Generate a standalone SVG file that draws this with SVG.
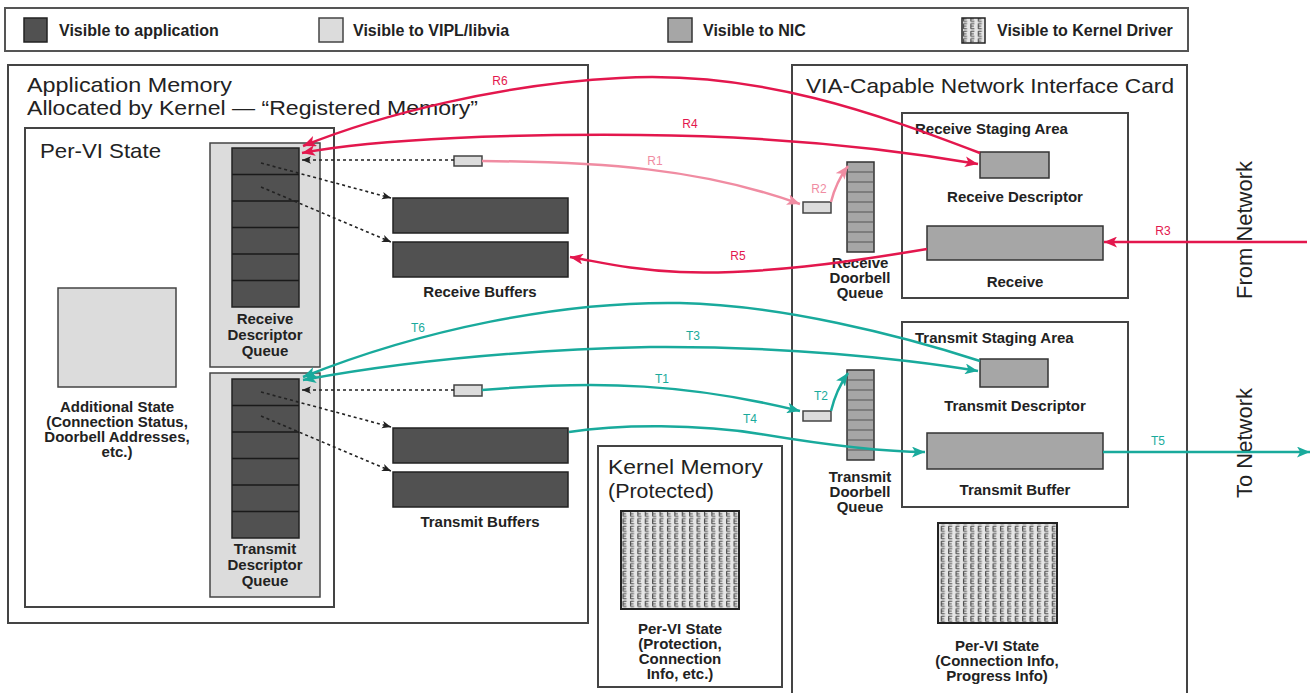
<svg xmlns="http://www.w3.org/2000/svg" width="1314" height="693" viewBox="0 0 1314 693">
<style>
.box{fill:#fff;stroke:#444;stroke-width:2}
.dark{fill:#515151;stroke:#222;stroke-width:1.5}
.light{fill:#dcdcdc;stroke:#444;stroke-width:1.5}
.nic{fill:#a6a6a6;stroke:#333;stroke-width:1.5}
.kern{fill:url(#kp);stroke:#222;stroke-width:2}
.sep{stroke:#1a1a1a;stroke-width:1.5}
.sepn{stroke:#555;stroke-width:1}
.title{font-family:"Liberation Sans",Arial,sans-serif;font-size:21px;fill:#222}
.lbl{font-family:"Liberation Sans",Arial,sans-serif;font-size:15px;font-weight:bold;fill:#222}
.leg{font-family:"Liberation Sans",Arial,sans-serif;font-size:16px;font-weight:bold;fill:#222}
.ctr{text-anchor:middle}
.cl{font-family:"Liberation Sans",Arial,sans-serif;font-size:12px;text-anchor:middle}
.red{stroke:#e3174d;stroke-width:2.5;fill:none}
.pink{stroke:#f08ca2;stroke-width:2.5;fill:none}
.teal{stroke:#19aa9c;stroke-width:2.5;fill:none}
.dot{stroke:#222;stroke-width:1.6;fill:none;stroke-dasharray:3 3}
</style>
<defs>
<pattern id="kp" width="7.4" height="7.5" patternUnits="userSpaceOnUse">
<rect width="7.4" height="7.5" fill="#e6e6e6"/>
<path d="M1.5,1.2 V6.3 M1.5,1.2 H5 M1.5,3.75 H4.5 M1.5,6.3 H5" stroke="#444" stroke-width="1.1" fill="none"/>
</pattern>
<marker id="mr" viewBox="0 0 12 10" refX="12" refY="5" markerWidth="13" markerHeight="11" markerUnits="userSpaceOnUse" orient="auto-start-reverse"><path d="M0,0 L12,5 L0,10 L3,5 z" fill="#e3174d"/></marker>
<marker id="mp" viewBox="0 0 12 10" refX="12" refY="5" markerWidth="13" markerHeight="11" markerUnits="userSpaceOnUse" orient="auto-start-reverse"><path d="M0,0 L12,5 L0,10 L3,5 z" fill="#f08ca2"/></marker>
<marker id="mt" viewBox="0 0 12 10" refX="12" refY="5" markerWidth="13" markerHeight="11" markerUnits="userSpaceOnUse" orient="auto-start-reverse"><path d="M0,0 L12,5 L0,10 L3,5 z" fill="#19aa9c"/></marker>
<marker id="mk" viewBox="0 0 12 10" refX="12" refY="5" markerWidth="9" markerHeight="8" markerUnits="userSpaceOnUse" orient="auto-start-reverse"><path d="M0,0 L12,5 L0,10 L3,5 z" fill="#222"/></marker>
</defs>
<rect width="1314" height="693" fill="#fff"/>

<g id="legend">
<rect x="5" y="8" width="1183" height="43" fill="#fff" stroke="#555" stroke-width="2"/>
<rect class="dark" x="24" y="18" width="23" height="24"/>
<text class="leg" x="59" y="36">Visible to application</text>
<rect class="light" x="319" y="18" width="24" height="24"/>
<text class="leg" x="353" y="36">Visible to VIPL/libvia</text>
<rect class="nic" x="668" y="18" width="24" height="24"/>
<text class="leg" x="703" y="36">Visible to NIC</text>
<rect class="kern" style="stroke-width:1.5" x="962" y="18" width="23" height="25"/>
<text class="leg" x="997" y="36">Visible to Kernel Driver</text>
</g>

<g id="app-memory">
<rect class="box" x="8" y="65" width="580" height="558"/>
<text class="title" x="27" y="92" textLength="205" lengthAdjust="spacingAndGlyphs">Application Memory</text>
<text class="title" x="27" y="115" textLength="451" lengthAdjust="spacingAndGlyphs">Allocated by Kernel — “Registered Memory”</text>
</g>

<g id="per-vi-state">
<rect class="box" x="25" y="128" width="309" height="479"/>
<text class="title" x="40" y="158" textLength="121" lengthAdjust="spacingAndGlyphs">Per-VI State</text>
</g>

<g id="additional-state">
<rect class="light" x="58" y="288" width="118" height="99"/>
<text class="lbl ctr" x="117" y="412">Additional State</text>
<text class="lbl ctr" x="117" y="427">(Connection Status,</text>
<text class="lbl ctr" x="117" y="442">Doorbell Addresses,</text>
<text class="lbl ctr" x="117" y="457">etc.)</text>
</g>

<g id="receive-descriptor-queue">
<rect class="light" x="210" y="143" width="110" height="224"/>
<rect class="dark" x="232" y="148" width="67" height="159"/>
<path class="sep" d="M232,174.5H299M232,201H299M232,227.5H299M232,254H299M232,280.5H299"/>
<text class="lbl ctr" x="265" y="324">Receive</text>
<text class="lbl ctr" x="265" y="340">Descriptor</text>
<text class="lbl ctr" x="265" y="356">Queue</text>
</g>

<g id="transmit-descriptor-queue">
<rect class="light" x="210" y="373" width="110" height="224"/>
<rect class="dark" x="232" y="379" width="67" height="159"/>
<path class="sep" d="M232,405.5H299M232,432H299M232,458.5H299M232,485H299M232,511.5H299"/>
<text class="lbl ctr" x="265" y="554">Transmit</text>
<text class="lbl ctr" x="265" y="570">Descriptor</text>
<text class="lbl ctr" x="265" y="586">Queue</text>
</g>

<g id="app-receive-doorbell">
<rect class="light" x="454" y="156" width="28" height="10"/>
</g>
<g id="app-transmit-doorbell">
<rect class="light" x="454" y="385" width="28" height="11"/>
</g>

<g id="receive-buffers">
<rect class="dark" x="393" y="198" width="175" height="35"/>
<rect class="dark" x="393" y="242" width="175" height="35"/>
<text class="lbl ctr" x="480" y="297">Receive Buffers</text>
</g>

<g id="transmit-buffers">
<rect class="dark" x="393" y="428" width="175" height="35"/>
<rect class="dark" x="393" y="472" width="175" height="35"/>
<text class="lbl ctr" x="480" y="527">Transmit Buffers</text>
</g>

<g id="kernel-memory">
<rect class="box" x="598" y="446" width="184" height="241"/>
<text class="title" x="608" y="474" textLength="155" lengthAdjust="spacingAndGlyphs">Kernel Memory</text>
<text class="title" x="608" y="498" textLength="106" lengthAdjust="spacingAndGlyphs">(Protected)</text>
<rect class="kern" x="621" y="511" width="118" height="98"/>
<text class="lbl ctr" x="680" y="634">Per-VI State</text>
<text class="lbl ctr" x="680" y="649">(Protection,</text>
<text class="lbl ctr" x="680" y="664">Connection</text>
<text class="lbl ctr" x="680" y="679">Info, etc.)</text>
</g>

<g id="nic">
<rect class="box" x="792" y="65" width="395" height="640"/>
<text class="title" x="806" y="93" textLength="368" lengthAdjust="spacingAndGlyphs">VIA-Capable Network Interface Card</text>
</g>

<g id="receive-doorbell-queue">
<rect class="light" x="803" y="202" width="28" height="11"/>
<rect class="nic" x="847" y="162" width="27" height="90"/>
<path class="sepn" d="M847,172H874M847,182H874M847,192H874M847,202H874M847,212H874M847,222H874M847,232H874M847,242H874"/>
<text class="lbl ctr" x="860" y="268">Receive</text>
<text class="lbl ctr" x="860" y="283">Doorbell</text>
<text class="lbl ctr" x="860" y="298">Queue</text>
</g>

<g id="transmit-doorbell-queue">
<rect class="light" x="803" y="411" width="28" height="10"/>
<rect class="nic" x="847" y="370" width="27" height="90"/>
<path class="sepn" d="M847,380H874M847,390H874M847,400H874M847,410H874M847,420H874M847,430H874M847,440H874M847,450H874"/>
<text class="lbl ctr" x="860" y="482">Transmit</text>
<text class="lbl ctr" x="860" y="497">Doorbell</text>
<text class="lbl ctr" x="860" y="512">Queue</text>
</g>

<g id="receive-staging-area">
<rect class="box" x="902" y="113" width="226" height="185"/>
<text class="lbl" x="915" y="134">Receive Staging Area</text>
<rect class="nic" x="980" y="152" width="69" height="26"/>
<text class="lbl ctr" x="1015" y="202">Receive Descriptor</text>
<rect class="nic" x="927" y="226" width="176" height="34"/>
<text class="lbl ctr" x="1015" y="287">Receive</text>
</g>

<g id="transmit-staging-area">
<rect class="box" x="902" y="322" width="226" height="185"/>
<text class="lbl" x="915" y="343">Transmit Staging Area</text>
<rect class="nic" x="980" y="359" width="68" height="28"/>
<text class="lbl ctr" x="1015" y="411">Transmit Descriptor</text>
<rect class="nic" x="927" y="433" width="176" height="36"/>
<text class="lbl ctr" x="1015" y="495">Transmit Buffer</text>
</g>

<g id="nic-per-vi-state">
<rect class="kern" x="938" y="523" width="119" height="100"/>
<text class="lbl ctr" x="997" y="651">Per-VI State</text>
<text class="lbl ctr" x="997" y="666">(Connection Info,</text>
<text class="lbl ctr" x="997" y="681">Progress Info)</text>
</g>

<g id="network-labels">
<text class="title ctr" style="font-size:22px" transform="translate(1252,230) rotate(-90)">From Network</text>
<text class="title ctr" style="font-size:22px" transform="translate(1252,443) rotate(-90)">To Network</text>
</g>

<g id="connectors">
<path class="dot" d="M454,160 L302,160" marker-end="url(#mk)"/>
<path class="dot" d="M261,163 L391,198" marker-end="url(#mk)"/>
<path class="dot" d="M261,187 L391,242" marker-end="url(#mk)"/>
<path class="dot" d="M454,390 L302,390" marker-end="url(#mk)"/>
<path class="dot" d="M261,392 L391,427" marker-end="url(#mk)"/>
<path class="dot" d="M261,416 L391,471" marker-end="url(#mk)"/>

<path class="red" d="M980,153 C880,115 760,70 620,78 C500,84 380,115 303,146" marker-end="url(#mr)"/>
<path class="red" d="M302,153 C380,138 520,134 640,135 C760,136 880,147 978,164" marker-start="url(#mr)" marker-end="url(#mr)"/>
<path class="pink" d="M482,161 C600,162 700,168 800,204" marker-end="url(#mp)"/>
<path class="pink" d="M831,202 Q836,182 848,166" marker-end="url(#mp)"/>
<path class="red" d="M1307,242 L1104,242" marker-end="url(#mr)"/>
<path class="red" d="M927,249 C850,262 760,275 680,272 C630,270 600,262 570,257" marker-end="url(#mr)"/>

<path class="teal" d="M980,361 C900,335 780,305 680,303 C560,301 420,330 303,377" marker-end="url(#mt)"/>
<path class="teal" d="M303,380 C400,362 520,350 650,347 C780,346 900,358 978,371" marker-start="url(#mt)" marker-end="url(#mt)"/>
<path class="teal" d="M482,390 C600,380 690,384 800,411" marker-end="url(#mt)"/>
<path class="teal" d="M831,411 Q836,390 848,373" marker-end="url(#mt)"/>
<path class="teal" d="M569,432 C620,424 700,424 760,434 C820,444 880,452 925,452" marker-end="url(#mt)"/>
<path class="teal" d="M1103,452 L1310,452" marker-end="url(#mt)"/>

<text class="cl" x="500" y="85" fill="#e3174d">R6</text>
<text class="cl" x="690" y="128" fill="#e3174d">R4</text>
<text class="cl" x="655" y="165" fill="#f08ca2">R1</text>
<text class="cl" x="819" y="193" fill="#f08ca2">R2</text>
<text class="cl" x="738" y="260" fill="#e3174d">R5</text>
<text class="cl" x="1163" y="235" fill="#e3174d">R3</text>
<text class="cl" x="418" y="332" fill="#19aa9c">T6</text>
<text class="cl" x="693" y="340" fill="#19aa9c">T3</text>
<text class="cl" x="662" y="383" fill="#19aa9c">T1</text>
<text class="cl" x="821" y="400" fill="#19aa9c">T2</text>
<text class="cl" x="750" y="423" fill="#19aa9c">T4</text>
<text class="cl" x="1158" y="445" fill="#19aa9c">T5</text>
</g>
</svg>
